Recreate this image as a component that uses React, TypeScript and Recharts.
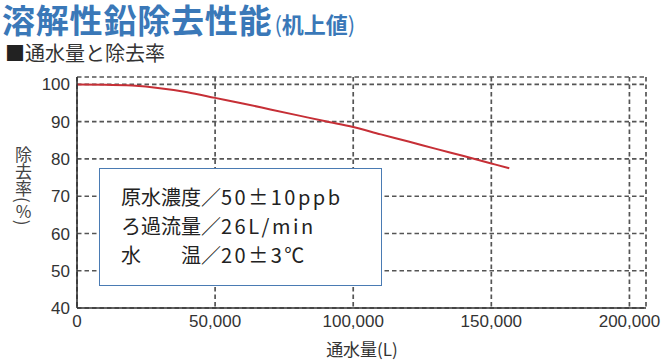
import React from "react";
import { LineChart, Line, XAxis, YAxis, CartesianGrid } from "recharts";

const waterVolumes = [0, 10000, 20000, 30000, 40000, 50000, 60000, 70000, 80000, 90000, 100000, 110000, 120000, 130000, 140000, 150000, 156500];
const removalRates = [100, 99.95, 99.7, 99.0, 97.9, 96.4, 94.9, 93.3, 91.7, 90.1, 88.6, 86.6, 84.7, 82.7, 80.8, 78.8, 77.5];
const xTicks = [0, 50000, 100000, 150000, 200000];
const yTicks = [40, 50, 60, 70, 80, 90, 100];

const titleMain = "溶解性鉛除去性能";
const titleSub = "机上値";
const subTitle = "通水量と除去率";
const xLabel = "通水量(L)";
const conditionRows = [
  ["原水濃度／", "50±10ppb"],
  ["ろ過流量／", "26L/min"],
  ["水　　温／", "20±3℃"],
];

const data = waterVolumes.map((x, i) => ({ x, rate: removalRates[i] }));

const JP = '"Noto Sans CJK JP", "Noto Sans", sans-serif';
const NUM = '"Liberation Sans", Arial, sans-serif';

export default function App() {
  return (
    <div style={{ position: "absolute", left: 0, top: 0, width: 668, height: 363, background: "#fff", fontFamily: JP, overflow: "hidden" }}>
      <div style={{ position: "absolute", left: 2, top: 2, height: 34, whiteSpace: "nowrap", color: "#3a78b8", fontWeight: 700, lineHeight: "34px" }}>
        <span style={{ fontSize: 33, letterSpacing: 0.8 }}>{titleMain}</span>
        <span style={{ fontSize: 22, marginLeft: 2 }}>
          <span style={{ fontWeight: 400 }}>(</span>{titleSub}<span style={{ fontWeight: 400 }}>)</span>
        </span>
      </div>
      <div style={{ position: "absolute", left: 5, top: 41, height: 24, whiteSpace: "nowrap", color: "#333", fontSize: 20, lineHeight: "24px" }}>
        <span style={{ color: "#222" }}>■</span>{subTitle}
      </div>
      <LineChart width={668} height={363} data={data} margin={{ top: 77, right: 22, left: 0, bottom: 0 }} style={{ position: "absolute", left: 0, top: 0 }}>
        <CartesianGrid stroke="#555" strokeWidth={1.7} strokeDasharray="4.5 3" />
        <XAxis
          dataKey="x"
          type="number"
          domain={[0, 206000]}
          ticks={xTicks}
          tickFormatter={(v: number) => v.toLocaleString("en-US")}
          height={55}
          tickSize={0}
          tickMargin={7}
          axisLine={{ stroke: "#333", strokeWidth: 1.6 }}
          tickLine={false}
          tick={{ fill: "#333", fontSize: 17, fontFamily: NUM }}
          interval={0}
        />
        <YAxis
          type="number"
          domain={[40, 102]}
          ticks={yTicks}
          width={77}
          tickSize={0}
          tickMargin={7}
          axisLine={{ stroke: "#333", strokeWidth: 1.6 }}
          tickLine={false}
          tick={{ fill: "#333", fontSize: 17, fontFamily: NUM }}
          interval={0}
        />
        <Line type="monotone" dataKey="rate" stroke="#c62f36" strokeWidth={2} dot={false} isAnimationActive={false} />
      </LineChart>
      <div style={{ position: "absolute", left: 14, top: 146, width: 18, color: "#444", fontSize: 17, lineHeight: "18px", writingMode: "vertical-rl", whiteSpace: "nowrap" }}>
        除去率(<span style={{ textOrientation: "upright" }}>%</span>)
      </div>
      <div style={{ position: "absolute", left: 262, width: 200, top: 338, textAlign: "center", color: "#333", fontSize: 17, lineHeight: "22px", whiteSpace: "nowrap" }}>
        {xLabel}
      </div>
      <div style={{ position: "absolute", left: 99, top: 168, width: 281, height: 116, border: "1.6px solid #4a7bb3", background: "#fff" }}>
        {conditionRows.map((r, i) => (
          <div key={i} style={{ position: "absolute", left: 21, top: 15 + i * 29, whiteSpace: "nowrap", color: "#222", fontSize: 20, lineHeight: "26px" }}>
            <span>{r[0]}</span>
            <span style={{ letterSpacing: 2.5 }}>{r[1]}</span>
          </div>
        ))}
      </div>
    </div>
  );
}
